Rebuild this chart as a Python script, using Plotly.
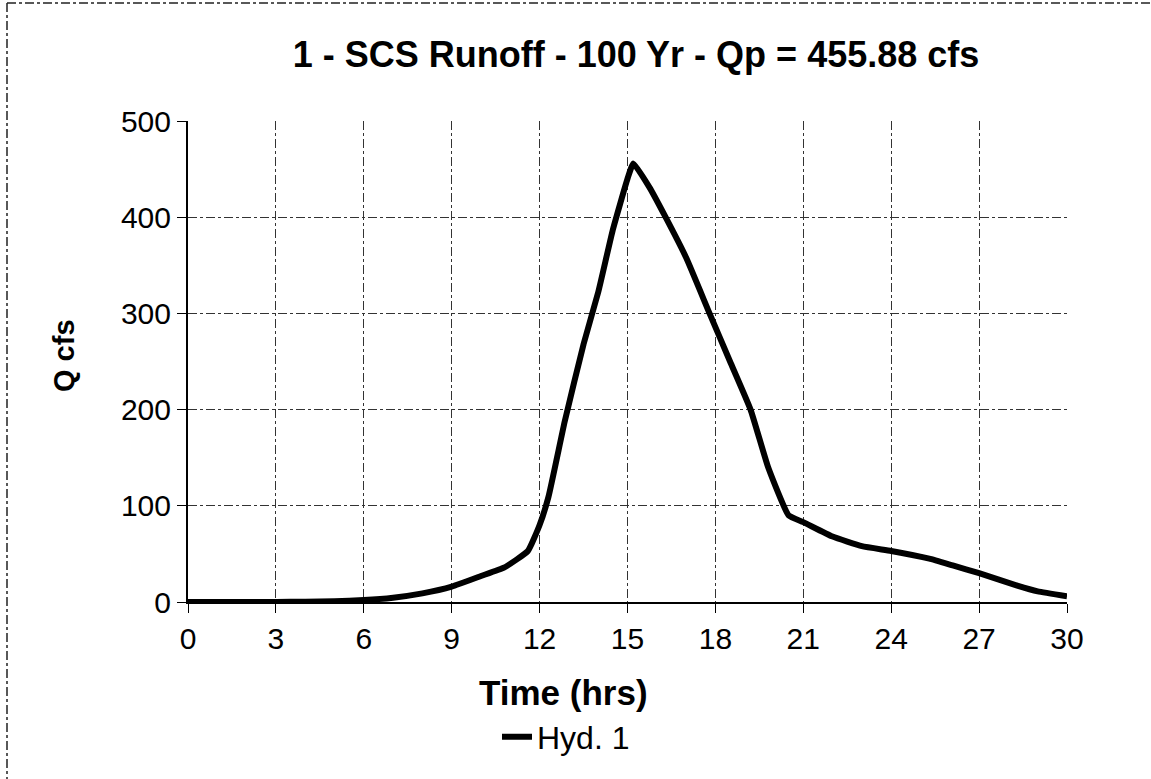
import plotly.graph_objects as go

hours = [0, 1, 2, 3, 4, 5, 6, 7, 8, 9, 10, 10.8, 11.6, 12, 12.3, 12.86, 13.5, 14, 14.5,
         15, 15.2, 15.75, 16.3, 17, 17.8, 18.5, 19.2, 19.8, 20.5, 21, 22, 23, 24, 25.3,
         26.1, 27, 28.3, 29, 30]
q_cfs = [0, 0, 0, 0, 0.3, 0.8, 2, 4.5, 9, 16, 27, 36, 53, 80, 109, 188, 268, 322, 387,
         440, 455.88, 431, 400, 358, 300, 250, 200, 140, 90, 83, 68, 58, 53, 45,
         38, 30, 17, 11, 6]

x_ticks = [0, 3, 6, 9, 12, 15, 18, 21, 24, 27, 30]
y_ticks = [0, 100, 200, 300, 400, 500]

title_text = "1 - SCS Runoff - 100 Yr - Qp = 455.88 cfs"
x_title = "Time (hrs)"
y_title = "Q cfs"
series_name = "Hyd. 1"

FONT = "Liberation Sans, Arial, sans-serif"
W, H = 1151, 779
ML, MR, MT, MB = 188, 84, 121, 177
PW, PH = W - ML - MR, H - MT - MB


def px_x(px):
    return (px - ML) / PW


def px_y(py):
    return (H - MB - py) / PH


fig = go.Figure()
fig.add_trace(go.Scatter(
    x=hours, y=q_cfs, mode="lines", name=series_name,
    line=dict(color="black", width=6, shape="spline", smoothing=0.4),
    showlegend=True,
))

grid = dict(showgrid=True, gridcolor="#333333", gridwidth=1, griddash="dashdot")

fig.update_layout(
    width=W, height=H,
    margin=dict(l=ML, r=MR, t=MT, b=MB),
    paper_bgcolor="white", plot_bgcolor="white",
    font=dict(family=FONT, color="black", size=30),
    title=dict(text=f"<b>{title_text}</b>", x=636 / W, xanchor="center",
               y=1 - 54 / H, yanchor="middle", font=dict(size=36, family=FONT)),
    xaxis=dict(range=[0, 30], tickvals=x_ticks, ticks="outside", ticklen=9,
               tickcolor="black", linecolor="black", linewidth=2, showline=True,
               zeroline=False, tickfont=dict(size=30), **grid),
    yaxis=dict(range=[0, 500], tickvals=y_ticks, ticks="outside", ticklen=9,
               tickcolor="black", linecolor="black", linewidth=2, showline=True,
               zeroline=False, tickfont=dict(size=30), **grid),
    legend=dict(orientation="h", x=px_x(566), xanchor="center", y=px_y(737),
                yanchor="middle", font=dict(size=32), bgcolor="rgba(0,0,0,0)",
                itemwidth=30),
    annotations=[
        dict(text=f"<b>{x_title}</b>", xref="paper", yref="paper",
             x=px_x(563), y=px_y(692), xanchor="center", yanchor="middle",
             showarrow=False, font=dict(size=35, family=FONT)),
        dict(text=f"<b>{y_title}</b>", xref="paper", yref="paper",
             x=px_x(64), y=px_y(356), xanchor="center", yanchor="middle",
             textangle=-90, showarrow=False, font=dict(size=29, family=FONT)),
    ],
)

# page frame lines (left and top) like the reference scan
fig.add_shape(type="line", xref="paper", yref="paper",
              x0=px_x(7), x1=px_x(7), y0=px_y(3), y1=px_y(H),
              line=dict(color="#222222", width=1.5, dash="dashdot"))
fig.add_shape(type="line", xref="paper", yref="paper",
              x0=px_x(7), x1=px_x(W), y0=px_y(3), y1=px_y(3),
              line=dict(color="#222222", width=1.5, dash="dashdot"))

fig.write_html("out.html", config={"displayModeBar": False},
               post_script="document.body.style.margin='0';")
